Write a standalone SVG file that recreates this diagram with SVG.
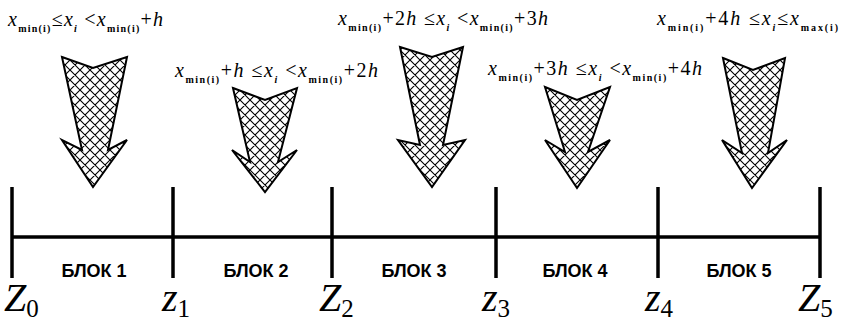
<svg xmlns="http://www.w3.org/2000/svg" width="842" height="321" viewBox="0 0 842 321">
<style>
.f{font-family:"Liberation Serif","Times New Roman",serif;font-size:20px;fill:#000}
.v{font-style:italic}
.s{font-size:10px;font-weight:bold}
.si{font-size:10px;font-weight:bold;font-style:italic}
.blk{font-family:"Liberation Sans",Arial,sans-serif;font-size:18px;font-weight:bold;text-anchor:middle;fill:#000}
.z{font-family:"Liberation Serif","Times New Roman",serif;font-size:40px;font-style:italic;fill:#000}
.zs{font-style:normal;font-size:25px}
.arr{fill:url(#hatch);stroke:#000;stroke-width:2;stroke-linejoin:miter}
.ln{stroke:#000;stroke-width:3.5;fill:none}
</style>
<defs>
<pattern id="hatch" patternUnits="userSpaceOnUse" width="10" height="10">
<rect width="10" height="10" fill="#fff"/>
<path d="M-1,1 L1,-1 M0,10 L10,0 M9,11 L11,9 M-1,9 L1,11 M0,0 L10,10 M9,-1 L11,1" stroke="#000" stroke-width="1.1"/>
</pattern>
</defs>

<g id="axis">
<line class="ln" x1="11" y1="237" x2="820" y2="237"/>
<line class="ln" x1="12" y1="187" x2="12" y2="278"/>
<line class="ln" x1="173" y1="187" x2="173" y2="278"/>
<line class="ln" x1="332" y1="187" x2="332" y2="278"/>
<line class="ln" x1="496" y1="187" x2="496" y2="278"/>
<line class="ln" x1="658" y1="187" x2="658" y2="278"/>
<line class="ln" x1="820" y1="187" x2="820" y2="278"/>
</g>

<g id="arrows">
<polygon id="arrow1" class="arr" points="62,57 93,68 127,57 108,150 127,140 93,187 62,140 82,150"/>
<polygon id="arrow2" class="arr" points="233,88 265,100 297,88 278,162 297,150 265,192 232,150 250,162"/>
<polygon id="arrow3" class="arr" points="400,47 432,57 463,47 443,145 465,140 432,187 398,140 420,145"/>
<polygon id="arrow4" class="arr" points="545,87 577,100 610,87 588,152 610,140 577,188 545,140 565,152"/>
<polygon id="arrow5" class="arr" points="723,58 753,70 785,58 768,153 787,140 752,188 722,140 742,153"/>
</g>

<g id="label1"><text class="f" x="8" y="26" textLength="155" lengthAdjust="spacing"><tspan class="v">x</tspan><tspan class="s" dy="6">min(i)</tspan><tspan dy="-6">≤</tspan><tspan class="v">x</tspan><tspan class="si" dy="6">i</tspan><tspan dy="-6"> &lt;</tspan><tspan class="v">x</tspan><tspan class="s" dy="6">min(i)</tspan><tspan dy="-6">+</tspan><tspan class="v">h</tspan></text></g>

<g id="label2"><text class="f" x="175" y="77" textLength="203" lengthAdjust="spacing"><tspan class="v">x</tspan><tspan class="s" dy="6">min(i)</tspan><tspan dy="-6">+</tspan><tspan class="v">h</tspan><tspan> ≤</tspan><tspan class="v">x</tspan><tspan class="si" dy="6">i</tspan><tspan dy="-6"> &lt;</tspan><tspan class="v">x</tspan><tspan class="s" dy="6">min(i)</tspan><tspan dy="-6">+2</tspan><tspan class="v">h</tspan></text></g>

<g id="label3"><text class="f" x="338" y="25" textLength="210" lengthAdjust="spacing"><tspan class="v">x</tspan><tspan class="s" dy="6">min(i)</tspan><tspan dy="-6">+2</tspan><tspan class="v">h</tspan><tspan> ≤</tspan><tspan class="v">x</tspan><tspan class="si" dy="6">i</tspan><tspan dy="-6"> &lt;</tspan><tspan class="v">x</tspan><tspan class="s" dy="6">min(i)</tspan><tspan dy="-6">+3</tspan><tspan class="v">h</tspan></text></g>

<g id="label4"><text class="f" x="488" y="75" textLength="214" lengthAdjust="spacing"><tspan class="v">x</tspan><tspan class="s" dy="6">min(i)</tspan><tspan dy="-6">+3</tspan><tspan class="v">h</tspan><tspan> ≤</tspan><tspan class="v">x</tspan><tspan class="si" dy="6">i</tspan><tspan dy="-6"> &lt;</tspan><tspan class="v">x</tspan><tspan class="s" dy="6">min(i)</tspan><tspan dy="-6">+4</tspan><tspan class="v">h</tspan></text></g>

<g id="label5"><text class="f" x="657" y="25" textLength="181" lengthAdjust="spacing"><tspan class="v">x</tspan><tspan class="s" dy="6">min(i)</tspan><tspan dy="-6">+4</tspan><tspan class="v">h</tspan><tspan> ≤</tspan><tspan class="v">x</tspan><tspan class="si" dy="6">i</tspan><tspan dy="-6">≤</tspan><tspan class="v">x</tspan><tspan class="s" dy="6">max(i)</tspan></text></g>

<g id="blocks">
<text class="blk" x="94" y="277">БЛОК 1</text>
<text class="blk" x="256" y="277">БЛОК 2</text>
<text class="blk" x="414" y="277">БЛОК 3</text>
<text class="blk" x="575" y="277">БЛОК 4</text>
<text class="blk" x="739" y="277">БЛОК 5</text>
</g>

<g id="zlabels">
<text class="z" x="4" y="311">Z<tspan class="zs" dy="6">0</tspan></text>
<text class="z" x="162" y="311">z<tspan class="zs" dy="6">1</tspan></text>
<text class="z" x="319" y="311">Z<tspan class="zs" dy="6">2</tspan></text>
<text class="z" x="482" y="311">z<tspan class="zs" dy="6">3</tspan></text>
<text class="z" x="645" y="311">z<tspan class="zs" dy="6">4</tspan></text>
<text class="z" x="798" y="311">Z<tspan class="zs" dy="6">5</tspan></text>
</g>
</svg>
